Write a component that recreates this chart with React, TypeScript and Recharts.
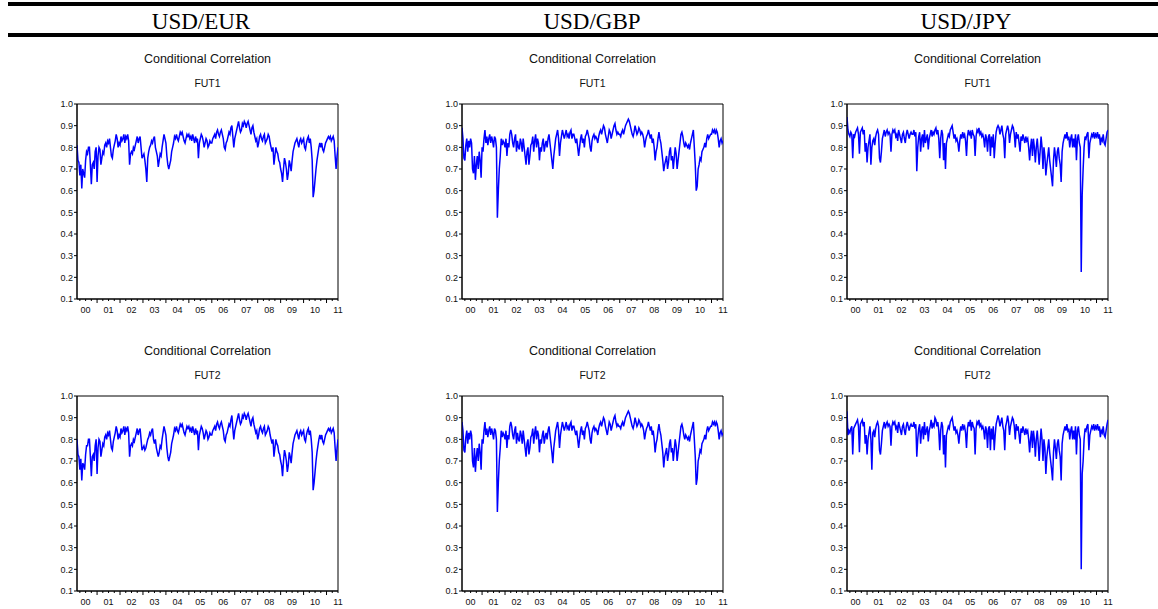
import React from 'react';
import { LineChart, Line, XAxis, YAxis, ReferenceArea } from 'recharts';

// half-monthly samples, Feb 2000 .. mid 2011
const T0 = 2000.125;
const T1 = 2011.5;
const STEP = 1 / 24;

const CURRENCIES = ['USD/EUR', 'USD/GBP', 'USD/JPY'];
const CONTRACTS = ['FUT1', 'FUT2'];
const YEAR_LABELS = ['00', '01', '02', '03', '04', '05', '06', '07', '08', '09', '10', '11'];
const Y_TICKS = [0.1, 0.2, 0.3, 0.4, 0.5, 0.6, 0.7, 0.8, 0.9, 1.0];

const EUR_FUT1 = [
  0.81, 0.74, 0.73, 0.67, 0.72, 0.61, 0.70, 0.68, 0.66, 0.74, 0.78, 0.77, 0.80, 0.80, 0.72, 0.63, 0.72, 0.73, 0.70, 0.78, 0.80,
  0.64, 0.76, 0.80, 0.79, 0.72, 0.75, 0.78, 0.77, 0.81, 0.82, 0.80, 0.83, 0.82, 0.84, 0.80, 0.76, 0.75, 0.79, 0.81, 0.83, 0.86, 0.84, 0.80, 0.82,
  0.81, 0.85, 0.83, 0.84, 0.86, 0.82, 0.85, 0.84, 0.86, 0.83, 0.72, 0.77, 0.78, 0.77, 0.80, 0.79, 0.81, 0.83, 0.85, 0.82, 0.84, 0.85, 0.80, 0.75,
  0.76, 0.77, 0.74, 0.70, 0.64, 0.75, 0.78, 0.80, 0.81, 0.83, 0.82, 0.84, 0.85, 0.80, 0.78, 0.76, 0.71, 0.74, 0.77, 0.76, 0.80, 0.83, 0.86, 0.84,
  0.82, 0.76, 0.72, 0.70, 0.72, 0.74, 0.78, 0.80, 0.82, 0.85, 0.84, 0.86, 0.84, 0.83, 0.85, 0.87, 0.86, 0.87, 0.85, 0.83, 0.82, 0.84, 0.86, 0.85,
  0.86, 0.84, 0.85, 0.83, 0.86, 0.84, 0.82, 0.85, 0.83, 0.84, 0.75, 0.82, 0.84, 0.86, 0.85, 0.83, 0.80, 0.82, 0.84, 0.83, 0.80, 0.81, 0.83, 0.82,
  0.82, 0.84, 0.85, 0.86, 0.84, 0.87, 0.88, 0.86, 0.85, 0.87, 0.88, 0.86, 0.84, 0.80, 0.79, 0.82, 0.83, 0.85, 0.87, 0.86, 0.89, 0.90, 0.85, 0.80,
  0.84, 0.86, 0.88, 0.90, 0.92, 0.89, 0.87, 0.88, 0.91, 0.90, 0.92, 0.91, 0.89, 0.91, 0.92, 0.90, 0.88, 0.86, 0.89, 0.90, 0.87, 0.85, 0.83, 0.84,
  0.80, 0.82, 0.85, 0.86, 0.84, 0.83, 0.85, 0.86, 0.82, 0.83, 0.84, 0.86, 0.85, 0.82, 0.80, 0.78, 0.80, 0.72, 0.76, 0.80, 0.78, 0.77, 0.74, 0.73,
  0.70, 0.68, 0.64, 0.70, 0.75, 0.73, 0.70, 0.65, 0.68, 0.74, 0.72, 0.69, 0.74, 0.78, 0.80, 0.82, 0.83, 0.84, 0.82, 0.80, 0.83, 0.84, 0.82, 0.83,
  0.84, 0.80, 0.79, 0.82, 0.84, 0.85, 0.82, 0.84, 0.80, 0.74, 0.57, 0.60, 0.65, 0.70, 0.74, 0.77, 0.80, 0.82, 0.80, 0.82, 0.79, 0.78, 0.80, 0.82,
  0.83, 0.84, 0.85, 0.84, 0.85, 0.83, 0.84, 0.85, 0.83, 0.76, 0.70, 0.76, 0.80,
];

const EUR_FUT2 = [
  0.80, 0.73, 0.72, 0.66, 0.71, 0.61, 0.69, 0.68, 0.66, 0.73, 0.77, 0.77, 0.80, 0.80, 0.72, 0.63, 0.72, 0.73, 0.70, 0.77, 0.80,
  0.64, 0.76, 0.80, 0.79, 0.72, 0.75, 0.78, 0.77, 0.81, 0.82, 0.80, 0.83, 0.82, 0.84, 0.80, 0.76, 0.75, 0.79, 0.81, 0.83, 0.86, 0.84, 0.80, 0.82,
  0.81, 0.85, 0.83, 0.84, 0.86, 0.82, 0.85, 0.84, 0.86, 0.83, 0.72, 0.77, 0.78, 0.77, 0.80, 0.79, 0.81, 0.83, 0.85, 0.82, 0.84, 0.85, 0.80, 0.75,
  0.76, 0.77, 0.75, 0.76, 0.78, 0.80, 0.81, 0.83, 0.82, 0.84, 0.85, 0.80, 0.78, 0.80, 0.76, 0.74, 0.72, 0.74, 0.77, 0.76, 0.80, 0.83, 0.86, 0.84,
  0.82, 0.76, 0.72, 0.70, 0.72, 0.74, 0.78, 0.80, 0.82, 0.85, 0.84, 0.86, 0.84, 0.83, 0.85, 0.87, 0.86, 0.87, 0.85, 0.83, 0.82, 0.84, 0.86, 0.85,
  0.86, 0.84, 0.85, 0.83, 0.86, 0.84, 0.82, 0.85, 0.83, 0.84, 0.75, 0.82, 0.84, 0.86, 0.85, 0.83, 0.80, 0.82, 0.84, 0.83, 0.80, 0.81, 0.83, 0.82,
  0.82, 0.84, 0.85, 0.86, 0.84, 0.87, 0.88, 0.86, 0.85, 0.87, 0.88, 0.86, 0.84, 0.80, 0.79, 0.82, 0.83, 0.85, 0.87, 0.86, 0.89, 0.91, 0.85, 0.80,
  0.84, 0.86, 0.88, 0.90, 0.92, 0.89, 0.87, 0.88, 0.91, 0.90, 0.92, 0.91, 0.89, 0.91, 0.92, 0.90, 0.88, 0.86, 0.89, 0.90, 0.87, 0.85, 0.83, 0.84,
  0.80, 0.82, 0.85, 0.86, 0.84, 0.83, 0.85, 0.86, 0.82, 0.83, 0.84, 0.86, 0.85, 0.82, 0.80, 0.78, 0.80, 0.72, 0.76, 0.80, 0.78, 0.77, 0.74, 0.73,
  0.70, 0.68, 0.63, 0.70, 0.75, 0.73, 0.70, 0.65, 0.68, 0.74, 0.72, 0.69, 0.74, 0.78, 0.80, 0.82, 0.83, 0.84, 0.82, 0.80, 0.83, 0.84, 0.82, 0.83,
  0.84, 0.80, 0.79, 0.82, 0.84, 0.85, 0.82, 0.84, 0.80, 0.74, 0.565, 0.60, 0.65, 0.70, 0.74, 0.77, 0.80, 0.82, 0.80, 0.82, 0.79, 0.78, 0.80, 0.82,
  0.83, 0.84, 0.85, 0.84, 0.85, 0.83, 0.84, 0.85, 0.83, 0.76, 0.70, 0.76, 0.80,
];

const GBP_FUT1 = [
  0.89, 0.84, 0.75, 0.74, 0.81, 0.84, 0.78, 0.83, 0.80, 0.84, 0.82, 0.70, 0.68, 0.76, 0.65, 0.72, 0.76, 0.70, 0.78, 0.74, 0.66,
  0.80, 0.78, 0.84, 0.88, 0.82, 0.85, 0.81, 0.84, 0.86, 0.82, 0.85, 0.83, 0.80, 0.85, 0.84, 0.80, 0.475, 0.60, 0.70, 0.76, 0.84, 0.81, 0.83, 0.82,
  0.80, 0.84, 0.76, 0.82, 0.80, 0.86, 0.88, 0.86, 0.82, 0.80, 0.84, 0.86, 0.78, 0.83, 0.80, 0.79, 0.84, 0.82, 0.78, 0.84, 0.80, 0.76, 0.72, 0.78,
  0.80, 0.72, 0.76, 0.81, 0.82, 0.85, 0.78, 0.83, 0.86, 0.80, 0.84, 0.82, 0.74, 0.80, 0.78, 0.82, 0.84, 0.78, 0.81, 0.83, 0.80, 0.84, 0.86, 0.82,
  0.78, 0.74, 0.70, 0.76, 0.80, 0.84, 0.86, 0.88, 0.84, 0.76, 0.82, 0.85, 0.88, 0.86, 0.84, 0.86, 0.88, 0.85, 0.86, 0.84, 0.87, 0.88, 0.84, 0.86,
  0.86, 0.84, 0.82, 0.84, 0.80, 0.76, 0.80, 0.84, 0.86, 0.82, 0.84, 0.80, 0.85, 0.86, 0.88, 0.86, 0.84, 0.80, 0.78, 0.83, 0.85, 0.86, 0.84, 0.85,
  0.84, 0.82, 0.85, 0.87, 0.88, 0.86, 0.88, 0.90, 0.89, 0.86, 0.84, 0.82, 0.85, 0.88, 0.87, 0.84, 0.86, 0.88, 0.90, 0.91, 0.88, 0.86, 0.87, 0.86,
  0.86, 0.85, 0.87, 0.88, 0.86, 0.88, 0.90, 0.91, 0.92, 0.93, 0.92, 0.90, 0.88, 0.86, 0.85, 0.87, 0.90, 0.88, 0.86, 0.87, 0.89, 0.88, 0.86, 0.87,
  0.86, 0.84, 0.80, 0.83, 0.85, 0.86, 0.88, 0.86, 0.84, 0.86, 0.82, 0.84, 0.80, 0.74, 0.78, 0.80, 0.84, 0.87, 0.84, 0.82, 0.78, 0.74, 0.69, 0.72,
  0.74, 0.76, 0.70, 0.73, 0.78, 0.80, 0.74, 0.76, 0.70, 0.75, 0.80, 0.77, 0.70, 0.74, 0.78, 0.82, 0.86, 0.87, 0.85, 0.82, 0.80, 0.82, 0.81, 0.80,
  0.81, 0.79, 0.82, 0.84, 0.86, 0.88, 0.80, 0.72, 0.60, 0.62, 0.70, 0.72, 0.75, 0.74, 0.78, 0.79, 0.80, 0.82, 0.80, 0.84, 0.86, 0.84, 0.85, 0.86,
  0.86, 0.88, 0.87, 0.88, 0.86, 0.88, 0.87, 0.84, 0.80, 0.83, 0.84, 0.82, 0.83,
];

const GBP_FUT2 = [
  0.88, 0.84, 0.75, 0.74, 0.81, 0.84, 0.78, 0.83, 0.80, 0.84, 0.82, 0.70, 0.67, 0.76, 0.65, 0.72, 0.76, 0.70, 0.78, 0.74, 0.66,
  0.80, 0.78, 0.84, 0.88, 0.82, 0.85, 0.81, 0.84, 0.86, 0.82, 0.85, 0.83, 0.80, 0.85, 0.84, 0.80, 0.465, 0.60, 0.70, 0.76, 0.84, 0.81, 0.83, 0.82,
  0.80, 0.84, 0.76, 0.82, 0.80, 0.86, 0.88, 0.86, 0.82, 0.80, 0.84, 0.86, 0.78, 0.83, 0.80, 0.79, 0.84, 0.82, 0.78, 0.84, 0.80, 0.76, 0.72, 0.78,
  0.80, 0.73, 0.76, 0.81, 0.82, 0.85, 0.78, 0.83, 0.86, 0.80, 0.84, 0.82, 0.74, 0.80, 0.78, 0.82, 0.84, 0.78, 0.81, 0.83, 0.80, 0.84, 0.86, 0.82,
  0.78, 0.74, 0.69, 0.76, 0.80, 0.84, 0.86, 0.88, 0.84, 0.76, 0.82, 0.85, 0.88, 0.86, 0.84, 0.86, 0.88, 0.85, 0.86, 0.84, 0.87, 0.88, 0.84, 0.86,
  0.86, 0.84, 0.82, 0.84, 0.80, 0.76, 0.80, 0.84, 0.86, 0.82, 0.84, 0.80, 0.85, 0.86, 0.88, 0.86, 0.84, 0.80, 0.78, 0.83, 0.85, 0.86, 0.84, 0.85,
  0.84, 0.82, 0.85, 0.87, 0.88, 0.86, 0.88, 0.90, 0.89, 0.86, 0.84, 0.82, 0.85, 0.88, 0.87, 0.84, 0.86, 0.88, 0.90, 0.91, 0.88, 0.86, 0.87, 0.86,
  0.86, 0.85, 0.87, 0.88, 0.86, 0.88, 0.90, 0.91, 0.92, 0.93, 0.92, 0.90, 0.88, 0.86, 0.85, 0.87, 0.90, 0.88, 0.86, 0.87, 0.89, 0.88, 0.86, 0.87,
  0.86, 0.84, 0.80, 0.83, 0.85, 0.86, 0.88, 0.86, 0.84, 0.86, 0.82, 0.84, 0.80, 0.74, 0.78, 0.80, 0.84, 0.87, 0.84, 0.82, 0.78, 0.74, 0.67, 0.72,
  0.74, 0.76, 0.70, 0.73, 0.78, 0.80, 0.74, 0.76, 0.70, 0.75, 0.80, 0.77, 0.70, 0.74, 0.78, 0.82, 0.86, 0.87, 0.85, 0.82, 0.80, 0.82, 0.81, 0.80,
  0.81, 0.79, 0.82, 0.84, 0.86, 0.88, 0.80, 0.72, 0.59, 0.62, 0.70, 0.72, 0.75, 0.74, 0.78, 0.79, 0.80, 0.82, 0.80, 0.84, 0.86, 0.84, 0.85, 0.86,
  0.86, 0.88, 0.87, 0.88, 0.86, 0.88, 0.87, 0.84, 0.80, 0.83, 0.84, 0.82, 0.83,
];

const JPY_FUT1 = [
  0.94, 0.88, 0.86, 0.85, 0.87, 0.86, 0.75, 0.86, 0.85, 0.87, 0.88, 0.89, 0.86, 0.77, 0.87, 0.88, 0.89, 0.86, 0.88, 0.78, 0.82,
  0.73, 0.80, 0.83, 0.86, 0.72, 0.80, 0.83, 0.84, 0.81, 0.85, 0.87, 0.88, 0.86, 0.75, 0.73, 0.78, 0.84, 0.86, 0.88, 0.85, 0.87, 0.88, 0.86, 0.87,
  0.86, 0.78, 0.86, 0.88, 0.87, 0.88, 0.85, 0.86, 0.83, 0.88, 0.86, 0.84, 0.82, 0.86, 0.87, 0.84, 0.82, 0.86, 0.88, 0.86, 0.84, 0.86, 0.87, 0.86,
  0.86, 0.88, 0.85, 0.87, 0.69, 0.80, 0.85, 0.87, 0.78, 0.84, 0.86, 0.80, 0.88, 0.82, 0.84, 0.86, 0.79, 0.84, 0.86, 0.88, 0.85, 0.87, 0.86, 0.88,
  0.89, 0.86, 0.88, 0.84, 0.75, 0.84, 0.88, 0.86, 0.74, 0.82, 0.70, 0.82, 0.84, 0.86, 0.85, 0.88, 0.89, 0.90, 0.87, 0.84, 0.86, 0.83, 0.84, 0.82,
  0.78, 0.83, 0.86, 0.84, 0.87, 0.85, 0.86, 0.83, 0.76, 0.85, 0.88, 0.86, 0.87, 0.84, 0.88, 0.86, 0.85, 0.76, 0.85, 0.88, 0.87, 0.89, 0.86, 0.87,
  0.85, 0.86, 0.84, 0.80, 0.86, 0.84, 0.78, 0.85, 0.86, 0.76, 0.85, 0.80, 0.86, 0.75, 0.82, 0.87, 0.89, 0.90, 0.89, 0.86, 0.88, 0.90, 0.86, 0.84,
  0.75, 0.86, 0.88, 0.90, 0.88, 0.82, 0.86, 0.88, 0.90, 0.89, 0.86, 0.80, 0.87, 0.84, 0.86, 0.82, 0.78, 0.85, 0.83, 0.86, 0.84, 0.82, 0.85, 0.83,
  0.84, 0.80, 0.74, 0.80, 0.84, 0.76, 0.84, 0.80, 0.73, 0.80, 0.84, 0.78, 0.72, 0.78, 0.85, 0.80, 0.70, 0.80, 0.76, 0.67, 0.72, 0.76, 0.80, 0.74,
  0.70, 0.66, 0.62, 0.74, 0.80, 0.76, 0.71, 0.78, 0.80, 0.75, 0.72, 0.64, 0.78, 0.82, 0.84, 0.86, 0.84, 0.87, 0.84, 0.85, 0.80, 0.84, 0.86, 0.80,
  0.84, 0.80, 0.86, 0.74, 0.84, 0.86, 0.82, 0.80, 0.225, 0.58, 0.70, 0.80, 0.85, 0.84, 0.86, 0.87, 0.75, 0.82, 0.84, 0.86, 0.85, 0.87, 0.84, 0.86,
  0.85, 0.87, 0.84, 0.86, 0.81, 0.84, 0.83, 0.86, 0.82, 0.81, 0.84, 0.87, 0.88,
];

const JPY_FUT2 = [
  0.93, 0.82, 0.84, 0.83, 0.85, 0.86, 0.73, 0.85, 0.86, 0.87, 0.88, 0.89, 0.86, 0.74, 0.87, 0.88, 0.89, 0.86, 0.88, 0.78, 0.82,
  0.73, 0.80, 0.83, 0.86, 0.80, 0.66, 0.83, 0.84, 0.81, 0.85, 0.87, 0.88, 0.86, 0.75, 0.73, 0.78, 0.84, 0.86, 0.88, 0.85, 0.87, 0.88, 0.86, 0.87,
  0.86, 0.77, 0.86, 0.88, 0.87, 0.88, 0.85, 0.86, 0.83, 0.88, 0.86, 0.84, 0.82, 0.86, 0.87, 0.84, 0.82, 0.86, 0.88, 0.86, 0.84, 0.86, 0.87, 0.86,
  0.86, 0.88, 0.85, 0.87, 0.72, 0.80, 0.85, 0.87, 0.78, 0.84, 0.86, 0.80, 0.88, 0.82, 0.84, 0.86, 0.79, 0.84, 0.86, 0.89, 0.85, 0.87, 0.86, 0.90,
  0.89, 0.86, 0.88, 0.84, 0.75, 0.84, 0.88, 0.86, 0.73, 0.82, 0.67, 0.82, 0.84, 0.86, 0.85, 0.88, 0.89, 0.90, 0.87, 0.84, 0.86, 0.83, 0.84, 0.82,
  0.78, 0.83, 0.86, 0.84, 0.87, 0.85, 0.86, 0.83, 0.76, 0.85, 0.88, 0.86, 0.89, 0.84, 0.88, 0.86, 0.85, 0.73, 0.85, 0.88, 0.87, 0.89, 0.86, 0.87,
  0.85, 0.86, 0.84, 0.80, 0.86, 0.84, 0.76, 0.85, 0.86, 0.75, 0.85, 0.80, 0.86, 0.75, 0.82, 0.87, 0.89, 0.91, 0.89, 0.86, 0.88, 0.90, 0.86, 0.84,
  0.75, 0.86, 0.88, 0.91, 0.88, 0.82, 0.86, 0.88, 0.90, 0.89, 0.86, 0.80, 0.87, 0.84, 0.86, 0.82, 0.78, 0.85, 0.83, 0.86, 0.84, 0.82, 0.85, 0.83,
  0.84, 0.80, 0.74, 0.80, 0.84, 0.76, 0.84, 0.80, 0.72, 0.80, 0.84, 0.78, 0.70, 0.78, 0.85, 0.80, 0.70, 0.80, 0.76, 0.64, 0.72, 0.76, 0.80, 0.74,
  0.70, 0.66, 0.61, 0.74, 0.80, 0.76, 0.71, 0.78, 0.80, 0.75, 0.72, 0.61, 0.78, 0.82, 0.84, 0.86, 0.84, 0.87, 0.84, 0.85, 0.80, 0.84, 0.86, 0.80,
  0.84, 0.80, 0.86, 0.73, 0.84, 0.86, 0.82, 0.80, 0.20, 0.64, 0.70, 0.80, 0.85, 0.84, 0.86, 0.87, 0.75, 0.82, 0.84, 0.86, 0.85, 0.87, 0.84, 0.86,
  0.85, 0.87, 0.84, 0.86, 0.81, 0.84, 0.83, 0.86, 0.82, 0.81, 0.84, 0.87, 0.89,
];

// row = contract, column = currency
const SERIES = [
  [EUR_FUT1, GBP_FUT1, JPY_FUT1],
  [EUR_FUT2, GBP_FUT2, JPY_FUT2],
];

const toRows = (values: number[]) => values.map((v, i) => ({ t: T0 + i * STEP, v }));

// quarter marks across the sample; year marks are the whole numbers
const QUARTERS: number[] = [];
for (let q = Math.ceil(T0 * 4); q <= T1 * 4; q++) QUARTERS.push(q / 4);

const PLOT_W = 261;
const PLOT_H = 195;
const Y_AXIS_W = 40;
const TOP_PAD = 8;
const COL_LEFT = [77, 462, 847];
const ROW_TOP = [104, 396];
const HEAD_X = [201, 592, 966];
const FONT = '"Liberation Sans", Arial, sans-serif';

const TimeTick = (props: any) => {
  const { x, y, payload } = props;
  const v: number = payload.value;
  const frac = v - Math.floor(v);
  const isYear = frac < 1e-6;
  const isMid = Math.abs(frac - 0.5) < 1e-6;
  return (
    <g>
      <line x1={x} y1={y} x2={x} y2={y + (isYear ? 4 : 2)} stroke="#000" />
      {isMid && (
        <text x={x} y={y + 14} textAnchor="middle" fontSize={9} fontFamily={FONT} fill="#111">
          {YEAR_LABELS[Math.floor(v) - 2000]}
        </text>
      )}
    </g>
  );
};

const Panel = ({ values, left, top }: { values: number[]; left: number; top: number }) => (
  <div style={{ position: 'absolute', left: left - Y_AXIS_W, top: top - TOP_PAD }}>
    <LineChart
      width={Y_AXIS_W + PLOT_W + 14}
      height={TOP_PAD + PLOT_H + 22}
      data={toRows(values)}
      margin={{ top: TOP_PAD, right: 14, bottom: 0, left: 0 }}
    >
      <XAxis
        dataKey="t"
        type="number"
        domain={[T0, T1]}
        ticks={QUARTERS}
        interval={0}
        height={22}
        tickSize={0}
        tickMargin={0}
        tickLine={false}
        tick={<TimeTick />}
        axisLine={{ stroke: '#000' }}
        allowDataOverflow
      />
      <YAxis
        type="number"
        domain={[0.1, 1.0]}
        ticks={Y_TICKS}
        interval={0}
        width={Y_AXIS_W}
        tickSize={3}
        tickMargin={1}
        tickLine={{ stroke: '#000' }}
        axisLine={{ stroke: '#000' }}
        tick={{ fontSize: 9, fontFamily: FONT, fill: '#111' }}
        tickFormatter={(v: number) => v.toFixed(1)}
        allowDataOverflow
      />
      <ReferenceArea x1={T0} x2={T1} y1={0.1} y2={1.0} fill="none" stroke="#000" strokeWidth={1} />
      <Line
        type="linear"
        dataKey="v"
        stroke="#0000FF"
        strokeWidth={1.5}
        dot={false}
        activeDot={false}
        isAnimationActive={false}
      />
    </LineChart>
  </div>
);

export default function App() {
  return (
    <div style={{ position: 'absolute', left: 0, top: 0, width: 1158, height: 609, background: '#fff', overflow: 'hidden' }}>
      <svg width={1158} height={609} style={{ position: 'absolute', left: 0, top: 0 }}>
        <rect x={8} y={2} width={1150} height={4} fill="#000" />
        <rect x={8} y={33} width={1150} height={4} fill="#000" />
        {CURRENCIES.map((c, i) => (
          <text key={c} x={HEAD_X[i]} y={28.5} textAnchor="middle" fontSize={23} fontFamily='"Liberation Serif", "Times New Roman", serif' fill="#000">
            {c}
          </text>
        ))}
        {ROW_TOP.map((top, r) =>
          COL_LEFT.map((left, c) => (
            <g key={`${r}-${c}`}>
              <text x={left + PLOT_W / 2} y={top - 41} textAnchor="middle" fontSize={12.5} fontFamily={FONT} fill="#111">
                Conditional Correlation
              </text>
              <text x={left + PLOT_W / 2} y={top - 17.5} textAnchor="middle" fontSize={10.5} fontFamily={FONT} fill="#111">
                {CONTRACTS[r]}
              </text>
            </g>
          )),
        )}
      </svg>
      {ROW_TOP.map((top, r) =>
        COL_LEFT.map((left, c) => <Panel key={`${r}-${c}`} values={SERIES[r][c]} left={left} top={top} />),
      )}
    </div>
  );
}
